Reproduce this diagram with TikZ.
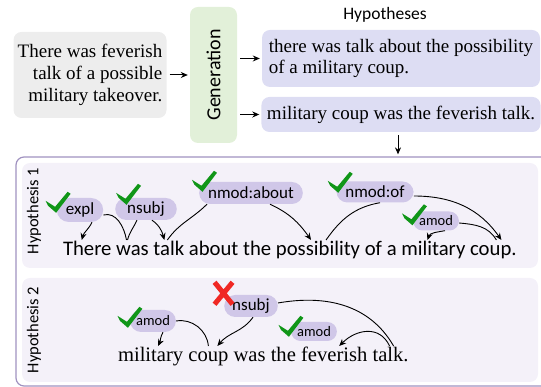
\documentclass[tikz,border=0pt]{standalone}
\usepackage{fontspec}
\setmainfont{Liberation Serif}
\newfontfamily\calibri{Carlito}
\usetikzlibrary{arrows.meta,positioning}

\definecolor{srcgray}{RGB}{237,237,237}
\definecolor{gengreen}{RGB}{226,240,217}
\definecolor{hypblue}{RGB}{221,221,243}
\definecolor{framepurple}{RGB}{160,146,192}
\definecolor{panelbg}{RGB}{244,241,249}
\definecolor{pillbg}{RGB}{208,199,232}
\definecolor{okgreen}{RGB}{16,150,24}
\definecolor{badred}{RGB}{240,40,36}

\tikzset{
  okmark/.pic={\fill[okgreen] (-1,2) -- (8.5,-4) -- (21,11) -- (24,9) -- (9.5,-10) -- (1.5,-3) -- cycle;},
  badmark/.pic={\draw[badred, line width=5pt] (-9,11) -- (9,-11) (9,11) -- (-9,-11);}
}

\begin{document}
\begin{tikzpicture}[x=1pt, y=1pt, >={Stealth[length=7pt,width=6pt]},
    box/.style={rounded corners=8pt, inner sep=0pt},
    srcbox/.style={box, fill=srcgray, minimum width=153pt, minimum height=86pt, align=right, font=\fontsize{19}{22}\selectfont},
    genbox/.style={box, fill=gengreen, rotate=90, minimum width=136pt, minimum height=47pt, font=\calibri\fontsize{20}{24}\selectfont},
    hypbox/.style={box, fill=hypblue, inner xsep=5.5pt, minimum width=278pt, align=left, font=\fontsize{19}{21}\selectfont},
    panel/.style={rounded corners=8pt, fill=panelbg, minimum width=516pt},
    rowlabel/.style={rotate=90, font=\calibri\fontsize{16.5}{20}\selectfont},
    pill/.style={rounded corners=11pt, fill=pillbg, inner xsep=9pt, inner ysep=0pt, minimum height=22pt, font=\calibri\fontsize{17}{20}\selectfont},
    smallpill/.style={pill, rounded corners=9.5pt, inner xsep=6pt, minimum height=19pt, font=\calibri\fontsize{14.5}{17}\selectfont},
    word/.style={inner sep=0pt, outer sep=0pt, text height=16pt, text depth=4pt},
    r1word/.style={word, font=\calibri\fontsize{20.7}{24}\selectfont},
    r2word/.style={word, font=\fontsize{20.6}{24}\selectfont},
    flow/.style={line width=1pt, shorten <=3pt, shorten >=2pt},
    arc/.style={line width=0.9pt}]
  \useasboundingbox (0,0) rectangle (541,387);

  % frame and the two rows
  \node[draw=framepurple, line width=1.2pt, rounded corners=8pt, minimum width=534pt, minimum height=229pt] (res) at (283,115.5) {};
  \node[panel, minimum height=105pt] (p1) at (280,171.5) {};
  \node[panel, minimum height=104pt] (p2) at (280,57) {};
  \node[rowlabel] (lab1) at (34,176) {Hypothesis 1};
  \node[rowlabel] (lab2) at (34,57) {Hypothesis 2};

  % generation step
  \node[srcbox] (src) at (90,312) {There was feverish\\talk of a possible\\military takeover.};
  \node[genbox] (gen) at (213.5,312) {Generation};
  \node[font=\calibri\fontsize{17.5}{20}\selectfont] (hyptitle) at (385,372) {Hypotheses};
  \node[hypbox, minimum height=57pt] (hyp1) at (401,328.5) {there was talk about the possibility\\of a military coup.};
  \node[hypbox, minimum height=35pt] (hyp2) at (401,272.5) {military coup was the feverish talk.};
  \draw[flow,->] (src.east) -- (gen.north);
  \draw[flow,->] (hyp1.west -| gen.south) -- (hyp1.west);
  \draw[flow,->] (hyp2.west -| gen.south) -- (hyp2.west);
  \draw[flow,->] ([xshift=-3pt]hyp2.south) -- ([xshift=-3pt]hyp2.south |- res.north);

  % hypothesis 1
  \node[r1word, anchor=base west] (r1there) at (63,131) {There};
  \node[r1word, base right=4.7pt of r1there] (r1was) {was};
  \node[r1word, base right=4.7pt of r1was] (r1talk) {talk};
  \node[r1word, base right=4.7pt of r1talk] (r1about) {about};
  \node[r1word, base right=4.7pt of r1about] (r1the) {the};
  \node[r1word, base right=4.7pt of r1the] (r1poss) {possibility};
  \node[r1word, base right=4.7pt of r1poss] (r1of) {of};
  \node[r1word, base right=4.7pt of r1of] (r1a) {a};
  \node[r1word, base right=4.7pt of r1a] (r1mil) {military};
  \node[r1word, base right=4.7pt of r1mil] (r1coup) {coup.};

  \node[pill, minimum height=24pt, rounded corners=12pt] (expl) at (80,177) {expl};
  \node[pill, inner xsep=12pt] (nsubja) at (146,178) {nsubj};
  \node[pill] (nmodabout) at (251,194) {nmod:about};
  \node[pill, minimum height=21pt] (nmodof) at (375,195) {nmod:of};
  \node[smallpill] (amoda) at (436,166) {amod};

  \draw[arc] ([xshift=-6pt]r1was.north) to[out=100,in=15] ([yshift=-5pt]expl.east);
  \draw[arc,->] ([xshift=12pt]expl.south) to[out=-115,in=75] ([xshift=-5.5pt]r1there.north);
  \draw[arc] ([xshift=-5pt]r1was.north) to[out=75,in=-115] ([xshift=-9pt]nsubja.south);
  \draw[arc,->] ([xshift=6pt]nsubja.south) to[out=-35,in=105] ([xshift=-4.5pt]r1talk.north);
  \draw[arc] ([xshift=-1.5pt]r1talk.north) to[out=55,in=-135] ([xshift=-44pt]nmodabout.south);
  \draw[arc,->] ([xshift=19pt]nmodabout.south) to[out=-25,in=125] ([xshift=-7pt]r1poss.north);
  \draw[arc] ([xshift=8pt]r1poss.north) to[out=55,in=-170] ([xshift=5pt]nmodof.south);
  \draw[arc,->] ([yshift=-4pt]nmodof.east) to[out=0,in=125] ([xshift=8pt]r1coup.north);
  \draw[arc] ([xshift=3pt]r1coup.north) to[out=120,in=-5] ([yshift=-2pt]amoda.east);
  \draw[arc,->] ([xshift=9pt]amoda.south) to[out=-170,in=70] ([xshift=-6pt]r1mil.north);

  \pic at ([shift={(-10,-5)}]expl.north west) {okmark};
  \pic at ([shift={(2,3)}]nsubja.north west) {okmark};
  \pic at ([shift={(-6,0)}]nmodabout.north west) {okmark};
  \pic at ([shift={(-7.5,-1.5)}]nmodof.north west) {okmark};
  \pic at ([shift={(-10,-4)}]amoda.north west) {okmark};

  % hypothesis 2
  \node[r2word, anchor=base west] (r2mil) at (118,25) {military};
  \node[r2word, base right=5.15pt of r2mil] (r2coup) {coup};
  \node[r2word, base right=5.15pt of r2coup] (r2was) {was};
  \node[r2word, base right=5.15pt of r2was] (r2the) {the};
  \node[r2word, base right=5.15pt of r2the] (r2fev) {feverish};
  \node[r2word, base right=5.15pt of r2fev] (r2talk) {talk.};

  \node[smallpill, minimum height=22pt, rounded corners=11pt] (amodb) at (153,66) {amod};
  \node[pill, inner xsep=8pt] (nsubjb) at (251,81) {nsubj};
  \node[smallpill] (amodc) at (314,55.5) {amod};

  \draw[arc] (amodb.east) to[out=10,in=95] (r2coup.north);
  \draw[arc,->] ([xshift=10pt]amodb.south) to[out=-120,in=65] ([xshift=7.5pt]r2mil.north);
  \draw[arc,->] ([xshift=2pt]nsubjb.south) to[out=-125,in=50] ([xshift=9pt]r2coup.north);
  \draw[arc] ([yshift=3pt]nsubjb.east) to[out=10,in=120] ([xshift=3pt]r2talk.north);
  \draw[arc,->] ([xshift=-1pt]r2talk.north) to[out=115,in=45,looseness=1.2] ([xshift=5pt]r2fev.north);

  \pic at ([shift={(-11.5,-8)}]amodb.north west) {okmark};
  \pic at ([shift={(-11.5,-5)}]amodc.north west) {okmark};
  \pic at ([shift={(-0.5,1.5)}]nsubjb.north west) {badmark};
\end{tikzpicture}
\end{document}
